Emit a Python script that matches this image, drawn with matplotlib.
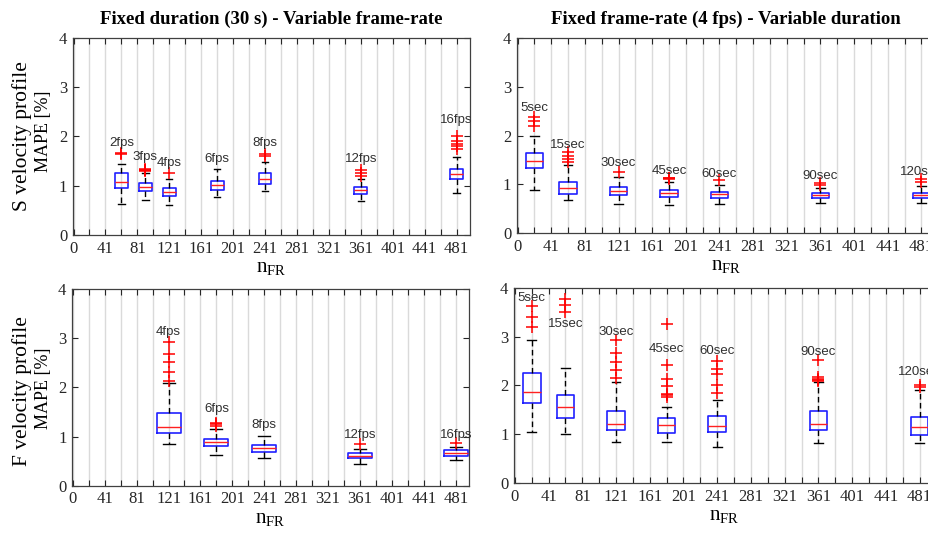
# -*- coding: utf-8 -*-
"""
MAPE of S and F velocity profiles vs. number of frames (n_FR).
Left column: fixed duration (30 s), variable frame-rate.
Right column: fixed frame-rate (4 fps), variable duration.
"""
import matplotlib
matplotlib.use('Agg')
import matplotlib.pyplot as plt

# ---- Top-left: S velocity, fixed duration ----
s_fr_pos = [61, 91, 121, 181, 241, 361, 481]
s_fr_names = ['2fps', '3fps', '4fps', '6fps', '8fps', '12fps', '16fps']
s_fr_q1 = [0.96, 0.90, 0.79, 0.92, 1.03, 0.83, 1.13]
s_fr_med = [1.08, 0.98, 0.88, 1.01, 1.13, 0.91, 1.24]
s_fr_q3 = [1.26, 1.06, 0.95, 1.09, 1.25, 0.98, 1.33]
s_fr_lo = [0.62, 0.71, 0.60, 0.77, 0.90, 0.68, 0.85]
s_fr_hi = [1.44, 1.26, 1.14, 1.33, 1.48, 1.13, 1.59]
s_fr_out = [[1.64, 1.67], [1.30, 1.31, 1.32, 1.33], [1.26], [], [1.61, 1.64],
            [1.19, 1.25, 1.31], [1.74, 1.80, 1.85, 1.90, 2.00]]
s_fr_text_y = [1.87, 1.59, 1.46, 1.54, 1.87, 1.54, 2.33]

# ---- Top-right: S velocity, fixed frame-rate ----
s_d_pos = [21, 61, 121, 181, 241, 361, 481]
s_d_names = ['5sec', '15sec', '30sec', '45sec', '60sec', '90sec', '120sec']
s_d_q1 = [1.34, 0.81, 0.78, 0.74, 0.72, 0.71, 0.71]
s_d_med = [1.48, 0.93, 0.87, 0.82, 0.79, 0.77, 0.77]
s_d_q3 = [1.64, 1.05, 0.95, 0.89, 0.85, 0.83, 0.83]
s_d_lo = [0.88, 0.67, 0.59, 0.58, 0.59, 0.62, 0.62]
s_d_hi = [1.99, 1.40, 1.14, 1.04, 0.98, 0.93, 0.96]
s_d_out = [[2.20, 2.30, 2.38], [1.45, 1.52, 1.58, 1.66], [1.26], [1.11, 1.12, 1.13],
           [1.09], [0.99, 1.03], [1.05, 1.11]]
s_d_text_y = [2.56, 1.80, 1.43, 1.28, 1.21, 1.17, 1.26]

# ---- Bottom-left: F velocity, fixed duration ----
f_fr_pos = [121, 181, 241, 361, 481]
f_fr_names = ['4fps', '6fps', '8fps', '12fps', '16fps']
f_fr_q1 = [1.08, 0.81, 0.69, 0.56, 0.61]
f_fr_med = [1.20, 0.89, 0.77, 0.61, 0.67]
f_fr_q3 = [1.47, 0.96, 0.82, 0.67, 0.72]
f_fr_lo = [0.85, 0.62, 0.56, 0.45, 0.53]
f_fr_hi = [2.08, 1.16, 1.02, 0.75, 0.79]
f_fr_out = [[2.12, 2.32, 2.51, 2.67, 2.92], [1.22, 1.25, 1.28], [], [0.84], [0.87]]
f_fr_text_y = [3.13, 1.57, 1.23, 1.03, 1.04]

# ---- Bottom-right: F velocity, fixed frame-rate ----
f_d_pos = [21, 61, 121, 181, 241, 361, 481]
f_d_names = ['5sec', '15sec', '30sec', '45sec', '60sec', '90sec', '120sec']
f_d_q1 = [1.64, 1.34, 1.08, 1.03, 1.05, 1.09, 0.98]
f_d_med = [1.87, 1.55, 1.20, 1.18, 1.17, 1.22, 1.14]
f_d_q3 = [2.25, 1.81, 1.48, 1.33, 1.37, 1.48, 1.36]
f_d_lo = [1.05, 1.00, 0.85, 0.85, 0.73, 0.82, 0.83]
f_d_hi = [2.94, 2.35, 2.08, 1.55, 1.70, 2.08, 1.91]
f_d_out = [[3.21, 3.40, 3.64], [3.50, 3.65, 3.77], [2.15, 2.32, 2.49, 2.66, 2.93],
           [1.76, 1.80, 1.83, 1.98, 2.13, 2.43, 3.26], [1.84, 2.00, 2.24, 2.33, 2.50],
           [2.10, 2.12, 2.14, 2.18, 2.53], [1.96, 2.01]]
f_d_text_y = [3.79, 3.26, 3.10, 2.74, 2.71, 2.69, 2.28]

# x ticks every 20 frames, every other one labelled (first shown as 0)
x_ticks = list(range(1, 482, 20))
x_ticklabels = ['0' if t == 1 else (str(t) if (t - 1) % 40 == 0 else '') for t in x_ticks]
y_ticks = [0, 1, 2, 3, 4]


def draw_panel(ax, pos, q1, med, q3, lo, hi, out, names, text_y, width):
    stats = []
    for i in range(len(pos)):
        stats.append({'med': med[i], 'q1': q1[i], 'q3': q3[i],
                      'whislo': lo[i], 'whishi': hi[i], 'fliers': out[i]})
    ax.bxp(stats, positions=pos, widths=width, capwidths=width * 0.5,
           manage_ticks=False,
           boxprops=dict(color='#2020ff', lw=1.2),
           medianprops=dict(color='#ff2020', lw=1.0),
           whiskerprops=dict(color='k', lw=1.0, linestyle=(0, (4, 2.5))),
           capprops=dict(color='k', lw=1.0),
           flierprops=dict(marker='+', markeredgecolor='#ff0000', markersize=8,
                           markeredgewidth=1.1, linestyle='none'))
    for x, y, s in zip(pos, text_y, names):
        ax.text(x, y, s, ha='center', va='center', family='Liberation Sans',
                fontsize=9.5, color='#303030')

    ax.set_xlim(0, 498)
    ax.set_ylim(0, 4)
    ax.set_xticks(x_ticks)
    ax.set_xticklabels(x_ticklabels)
    ax.set_yticks(y_ticks)
    ax.grid(axis='x', color='#dadada', lw=1.0)
    ax.set_axisbelow(True)
    ax.tick_params(direction='in', top=True, right=True, length=4, width=0.8,
                   labelsize=12, colors='#262626', pad=4)
    for sp in ax.spines.values():
        sp.set_color('#404040')
        sp.set_linewidth(0.9)
    ax.set_xlabel(r'$\mathregular{n_{FR}}$', fontsize=15, labelpad=1)


if __name__ == '__main__':
    plt.rcParams['font.family'] = ['Liberation Serif', 'DejaVu Serif']
    plt.rcParams['mathtext.default'] = 'regular'

    fig = plt.figure(figsize=(9.29, 5.37), dpi=100)

    # axes placed in pixel terms of the original (right column runs off the page)
    ax_tl = fig.add_axes([0.0783, 0.5624, 0.4277, 0.3669])
    ax_tr = fig.add_axes([0.5562, 0.5661, 0.4510, 0.3631])
    ax_bl = fig.add_axes([0.0775, 0.0955, 0.4277, 0.3663])
    ax_br = fig.add_axes([0.5533, 0.1006, 0.4520, 0.3631])

    draw_panel(ax_tl, s_fr_pos, s_fr_q1, s_fr_med, s_fr_q3, s_fr_lo, s_fr_hi,
               s_fr_out, s_fr_names, s_fr_text_y, 16)
    draw_panel(ax_tr, s_d_pos, s_d_q1, s_d_med, s_d_q3, s_d_lo, s_d_hi,
               s_d_out, s_d_names, s_d_text_y, 21)
    draw_panel(ax_bl, f_fr_pos, f_fr_q1, f_fr_med, f_fr_q3, f_fr_lo, f_fr_hi,
               f_fr_out, f_fr_names, f_fr_text_y, 30)
    draw_panel(ax_br, f_d_pos, f_d_q1, f_d_med, f_d_q3, f_d_lo, f_d_hi,
               f_d_out, f_d_names, f_d_text_y, 21)

    ax_tl.set_title('Fixed duration (30 s) - Variable frame-rate',
                    fontsize=13.5, fontweight='bold', pad=10)
    ax_tr.set_title('Fixed frame-rate (4 fps) - Variable duration',
                    fontsize=13.5, fontweight='bold', pad=10)

    # two-line y labels, the first line larger
    fig.text(22 / 929, 1 - 136 / 537, 'S velocity profile', rotation=90,
             ha='center', va='center', fontsize=15.5)
    fig.text(44 / 929, 1 - 131 / 537, 'MAPE [%]', rotation=90,
             ha='center', va='center', fontsize=13)
    fig.text(22 / 929, 1 - 391 / 537, 'F velocity profile', rotation=90,
             ha='center', va='center', fontsize=15.5)
    fig.text(44 / 929, 1 - 388 / 537, 'MAPE [%]', rotation=90,
             ha='center', va='center', fontsize=13)

    fig.savefig('out.png', dpi=100)
